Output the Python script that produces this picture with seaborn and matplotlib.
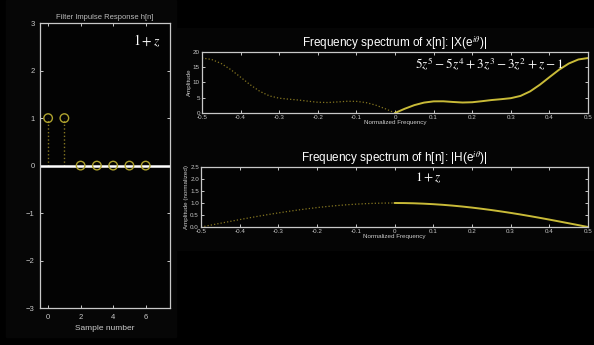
import matplotlib
matplotlib.use('Agg')
import matplotlib.pyplot as plt
import seaborn as sns
import pandas as pd
from matplotlib.patches import Rectangle

# impulse response h[n]
n_samples = [0, 1, 2, 3, 4, 5, 6]
h_values = [1, 1, 0, 0, 0, 0, 0]

# spectrum values (step 0.025)
freq_pos = [0.0, 0.025, 0.05, 0.075, 0.1, 0.125, 0.15, 0.175, 0.2, 0.225, 0.25,
            0.275, 0.3, 0.325, 0.35, 0.375, 0.4, 0.425, 0.45, 0.475, 0.5]
freq_neg = [-0.5, -0.475, -0.45, -0.425, -0.4, -0.375, -0.35, -0.325, -0.3, -0.275, -0.25,
            -0.225, -0.2, -0.175, -0.15, -0.125, -0.1, -0.075, -0.05, -0.025, 0.0]
x_amp_pos = [0.0, 1.38, 2.57, 3.40, 3.81, 3.83, 3.61, 3.43, 3.52, 3.86, 4.24,
             4.52, 4.85, 5.59, 7.08, 9.24, 11.73, 14.18, 16.2, 17.53, 18.0]
x_amp_neg = [18.0, 17.53, 16.2, 14.18, 11.73, 9.24, 7.08, 5.59, 4.85, 4.52, 4.24,
             3.86, 3.52, 3.43, 3.61, 3.83, 3.81, 3.40, 2.57, 1.38, 0.0]
h_amp_pos = [1.0, 0.997, 0.988, 0.972, 0.951, 0.924, 0.891, 0.853, 0.809, 0.760, 0.707,
             0.649, 0.588, 0.523, 0.454, 0.383, 0.309, 0.233, 0.156, 0.079, 0.0]
h_amp_neg = [0.0, 0.079, 0.156, 0.233, 0.309, 0.383, 0.454, 0.523, 0.588, 0.649, 0.707,
             0.760, 0.809, 0.853, 0.891, 0.924, 0.951, 0.972, 0.988, 0.997, 1.0]

sns.set_theme(style='dark', rc={
    'axes.facecolor': '#030303', 'figure.facecolor': 'black',
    'axes.edgecolor': '#c8c8c8', 'axes.linewidth': 0.9,
    'xtick.color': '#c8c8c8', 'ytick.color': '#c8c8c8',
    'xtick.direction': 'in', 'ytick.direction': 'in',
    'xtick.top': True, 'ytick.right': True,
    'xtick.bottom': True, 'ytick.left': True,
    'text.color': '#dddddd', 'axes.labelcolor': '#cccccc',
    'mathtext.fontset': 'stix',
})
plt.rcParams['font.family'] = ['Liberation Sans', 'DejaVu Sans']

solid_col = '#c9bb38'
dot_col = '#857620'

fig = plt.figure(figsize=(5.94, 3.45), dpi=100)
fig.patches.append(Rectangle((6 / 594, 8 / 345), 170 / 594, 337 / 345,
                             transform=fig.transFigure, color='#060606', zorder=-5))
fig.patches.append(Rectangle((177 / 594, 95 / 345), 417 / 594, 222 / 345,
                             transform=fig.transFigure, color='#050505', zorder=-5))

# Impulse response panel
ax0 = fig.add_axes([0.0673, 0.107, 0.219, 0.826])
ax0.axhline(0, color='white', lw=1.8, zorder=2)
ax0.vlines(n_samples, 0, h_values, colors=dot_col, linestyles=':', lw=1.0, zorder=1)
sns.scatterplot(x=n_samples, y=h_values, ax=ax0, marker='o', s=38,
                facecolor='none', edgecolor='#aea22e', linewidth=1.0, zorder=3)
ax0.set_xlim(-0.5, 7.5)
ax0.set_ylim(-3, 3)
ax0.set_xticks([0, 2, 4, 6])
ax0.set_yticks([-3, -2, -1, 0, 1, 2, 3])
ax0.tick_params(labelsize=5.5, length=2.5, width=0.7, pad=4)
ax0.set_title('Filter Impulse Response h[n]', fontsize=5.5, color='#bbbbbb', pad=3)
ax0.set_xlabel('Sample number', fontsize=6, labelpad=3)
ax0.text(0.93, 0.965, r'$1+z$', transform=ax0.transAxes, ha='right', va='top',
         fontsize=10, color='white')


def spectrum_panel(rect, fneg, aneg, fpos, apos, ylim, yticks, ylabel, title, note, note_x):
    ax = fig.add_axes(rect)
    sns.lineplot(data=pd.DataFrame({'f': fneg, 'a': aneg}), x='f', y='a', ax=ax,
                 color=dot_col, linestyle=':', lw=0.9)
    sns.lineplot(data=pd.DataFrame({'f': fpos, 'a': apos}), x='f', y='a', ax=ax,
                 color=solid_col, lw=1.4)
    ax.set_xlim(-0.5, 0.5)
    ax.set_ylim(*ylim)
    ax.set_xticks([-0.5, -0.4, -0.3, -0.2, -0.1, 0, 0.1, 0.2, 0.3, 0.4, 0.5])
    ax.set_xticklabels(['-0.5', '-0.4', '-0.3', '-0.2', '-0.1', '0',
                        '0.1', '0.2', '0.3', '0.4', '0.5'])
    ax.set_yticks(yticks)
    ax.tick_params(labelsize=4.5, length=2.5, width=0.7, pad=1.5)
    ax.set_xlabel('Normalized Frequency', fontsize=4.5, labelpad=0)
    ax.set_ylabel(ylabel, fontsize=4.5, labelpad=1)
    ax.set_title(title, fontsize=8.5, color='white', pad=2)
    ax.text(note_x, 0.93, note, transform=ax.transAxes, ha='left', va='top',
            fontsize=9.5, color='white')
    return ax


spectrum_panel([0.340, 0.6725, 0.650, 0.177], freq_neg, x_amp_neg, freq_pos, x_amp_pos,
               (0, 20), [0, 5, 10, 15, 20], 'Amplitude',
               r'Frequency spectrum of x[n]: |X(e$^{i\theta}$)|',
               r'$5z^5-5z^4+3z^3-3z^2+z-1$', 0.553)
spectrum_panel([0.3384, 0.342, 0.6515, 0.174], freq_neg, h_amp_neg, freq_pos, h_amp_pos,
               (0, 2.5), [0, 0.5, 1, 1.5, 2, 2.5], 'Amplitude (normalized)',
               r'Frequency spectrum of h[n]: |H(e$^{i\theta}$)|',
               r'$1+z$', 0.553)

fig.savefig('out.png', dpi=100, facecolor='black')
